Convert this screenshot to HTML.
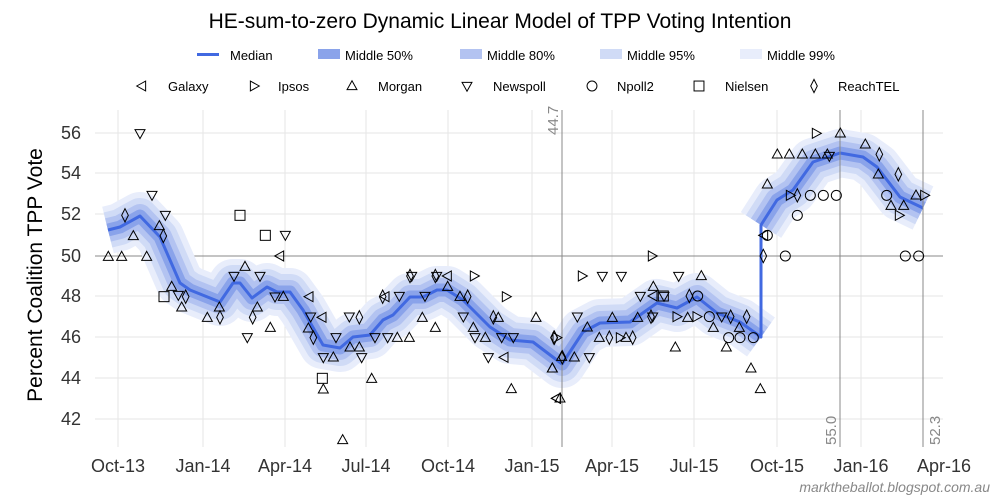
<!DOCTYPE html>
<html><head><meta charset="utf-8"><style>
html,body{margin:0;padding:0;background:#fff;}
svg{display:block;font-family:"Liberation Sans",sans-serif;}
</style></head><body>
<svg width="1000" height="500" viewBox="0 0 1000 500">
<defs>
<g id="tu"><polygon points="0,-16 15,11 -15,11" fill="none" stroke="#000" stroke-width="3"/></g>
<g id="td"><polygon points="0,16 15,-11 -15,-11" fill="none" stroke="#000" stroke-width="3"/></g>
<g id="tl"><polygon points="-16,0 11,-15 11,15" fill="none" stroke="#000" stroke-width="3"/></g>
<g id="tr"><polygon points="16,0 -11,-15 -11,15" fill="none" stroke="#000" stroke-width="3"/></g>
<g id="di"><polygon points="0,-20 10,0 0,20 -10,0" fill="none" stroke="#000" stroke-width="3"/></g>
<g id="ci"><circle r="15" fill="none" stroke="#000" stroke-width="3"/></g>
<g id="sq"><rect x="-15" y="-15" width="30" height="30" fill="none" stroke="#000" stroke-width="3"/></g>
<path id="p1" d="M108,230 L120,227 L140,216 L160,237 L180,283 L190,290 L220,302 L233,283 L240,283 L252,298 L267,287 L277,292 L290,292 L303,310 L323,345 L340,348 L353,337 L370,335 L383,320 L393,315 L410,297 L423,297 L437,290 L447,290 L463,300 L490,327 L510,340 L533,342 L562,364 L583,332 L600,323 L630,322 L657,303 L677,308 L697,297 L717,313 L740,322 L761,337"/>
<path id="p2" d="M761,225 L777,200 L793,190 L813,162 L840,153 L863,157 L877,167 L900,197 L923,208"/>
</defs>
<text x="500" y="28" font-size="21" text-anchor="middle" fill="#000">HE-sum-to-zero Dynamic Linear Model of TPP Voting Intention</text>
<g font-size="13" fill="#000">
<rect x="197" y="53" width="22" height="3" fill="#4169e1"/><text x="230" y="60">Median</text>
<rect x="318" y="49" width="22" height="10" fill="#8aa3ea"/><text x="345" y="60">Middle 50%</text>
<rect x="460" y="49" width="22" height="10" fill="#b3c3f1"/><text x="487" y="60">Middle 80%</text>
<rect x="600" y="49" width="22" height="10" fill="#d0dbf6"/><text x="627" y="60">Middle 95%</text>
<rect x="740" y="49" width="22" height="10" fill="#e8edfb"/><text x="767" y="60">Middle 99%</text>
</g>
<g font-size="13" fill="#000">
<use href="#tl" transform="translate(142,86) scale(0.33)"/><text x="168" y="91">Galaxy</text>
<use href="#tr" transform="translate(254,86) scale(0.33)"/><text x="278" y="91">Ipsos</text>
<use href="#tu" transform="translate(352,86) scale(0.33)"/><text x="378" y="91">Morgan</text>
<use href="#td" transform="translate(467,86) scale(0.33)"/><text x="493" y="91">Newspoll</text>
<use href="#ci" transform="translate(592,86) scale(0.33)"/><text x="617" y="91">Npoll2</text>
<use href="#sq" transform="translate(699,86) scale(0.33)"/><text x="725" y="91">Nielsen</text>
<use href="#di" transform="translate(814,86) scale(0.33)"/><text x="838" y="91">ReachTEL</text>
</g>
<g stroke="#e6e6e6" stroke-width="1">
<line x1="95" x2="943" y1="133" y2="133"/><line x1="95" x2="943" y1="173" y2="173"/>
<line x1="95" x2="943" y1="214" y2="214"/><line x1="95" x2="943" y1="296" y2="296"/>
<line x1="95" x2="943" y1="337" y2="337"/><line x1="95" x2="943" y1="378" y2="378"/>
<line x1="95" x2="943" y1="419" y2="419"/>
<line x1="118" x2="118" y1="110" y2="447"/><line x1="203" x2="203" y1="110" y2="447"/>
<line x1="285" x2="285" y1="110" y2="447"/><line x1="366" x2="366" y1="110" y2="447"/>
<line x1="448" x2="448" y1="110" y2="447"/><line x1="532" x2="532" y1="110" y2="447"/>
<line x1="612" x2="612" y1="110" y2="447"/><line x1="694" x2="694" y1="110" y2="447"/>
<line x1="777" x2="777" y1="110" y2="447"/><line x1="861" x2="861" y1="110" y2="447"/>
</g>
<line x1="95" x2="943" y1="256" y2="256" stroke="#888" stroke-width="1"/>
<g fill="none" stroke-linejoin="round" stroke-linecap="butt">
<use href="#p1" stroke="#e8edfb" stroke-width="48"/>
<use href="#p1" stroke="#d0dbf6" stroke-width="36"/>
<use href="#p1" stroke="#b3c3f1" stroke-width="24"/>
<use href="#p1" stroke="#8aa3ea" stroke-width="13"/>
<use href="#p2" stroke="#e8edfb" stroke-width="48"/>
<use href="#p2" stroke="#d0dbf6" stroke-width="36"/>
<use href="#p2" stroke="#b3c3f1" stroke-width="24"/>
<use href="#p2" stroke="#8aa3ea" stroke-width="13"/>
<path d="M108,230 L120,227 L140,216 L160,237 L180,283 L190,290 L220,302 L233,283 L240,283 L252,298 L267,287 L277,292 L290,292 L303,310 L323,345 L340,348 L353,337 L370,335 L383,320 L393,315 L410,297 L423,297 L437,290 L447,290 L463,300 L490,327 L510,340 L533,342 L562,364 L583,332 L600,323 L630,322 L657,303 L677,308 L697,297 L717,313 L740,322 L761,337 L761,225 L777,200 L793,190 L813,162 L840,153 L863,157 L877,167 L900,197 L923,208" stroke="#4169e1" stroke-width="3"/>
</g>
<g stroke="#888" stroke-width="1">
<line x1="562" x2="562" y1="110" y2="447"/>
<line x1="840" x2="840" y1="110" y2="447"/>
<line x1="923" x2="923" y1="110" y2="447"/>
</g>
<g font-size="15" fill="#888">
<text transform="translate(558,135) rotate(-90)">44.7</text>
<text transform="translate(836,445) rotate(-90)">55.0</text>
<text transform="translate(940,445) rotate(-90)">52.3</text>
</g>
<g transform="translate(90,110) scale(0.33333)">
<use href="#tu" x="55" y="440"/><use href="#tu" x="95" y="440"/><use href="#tu" x="170" y="440"/><use href="#tu" x="130" y="378"/><use href="#tu" x="208" y="348"/><use href="#tu" x="245" y="530"/><use href="#tu" x="275" y="592"/><use href="#tu" x="352" y="623"/><use href="#tu" x="388" y="592"/><use href="#tu" x="465" y="470"/><use href="#tu" x="502" y="592"/><use href="#tu" x="541" y="653"/><use href="#tu" x="580" y="560"/><use href="#tu" x="655" y="655"/><use href="#tu" x="700" y="838"/><use href="#tu" x="730" y="742"/><use href="#tu" x="758" y="990"/><use href="#tu" x="808" y="712"/><use href="#tu" x="780" y="712"/><use href="#tu" x="845" y="806"/><use href="#tu" x="922" y="683"/><use href="#tu" x="958" y="683"/><use href="#tu" x="997" y="623"/><use href="#tu" x="1036" y="653"/><use href="#tu" x="1073" y="530"/><use href="#tu" x="1110" y="560"/><use href="#tu" x="1150" y="653"/><use href="#tu" x="1186" y="683"/><use href="#tu" x="1225" y="623"/><use href="#tu" x="1264" y="837"/><use href="#tu" x="1338" y="623"/><use href="#tu" x="1387" y="775"/><use href="#tu" x="1415" y="740"/>
<use href="#td" x="150" y="70"/><use href="#td" x="186" y="255"/><use href="#td" x="226" y="315"/><use href="#td" x="265" y="555"/><use href="#td" x="586" y="375"/><use href="#td" x="472" y="682"/><use href="#td" x="510" y="498"/><use href="#td" x="555" y="560"/><use href="#td" x="662" y="620"/><use href="#td" x="700" y="742"/><use href="#td" x="738" y="682"/><use href="#td" x="778" y="620"/><use href="#td" x="815" y="742"/><use href="#td" x="855" y="682"/><use href="#td" x="893" y="682"/><use href="#td" x="928" y="558"/><use href="#td" x="965" y="498"/><use href="#td" x="1005" y="558"/><use href="#td" x="1040" y="498"/><use href="#td" x="1120" y="620"/><use href="#td" x="1155" y="682"/><use href="#td" x="1195" y="742"/><use href="#td" x="1235" y="682"/><use href="#td" x="1270" y="682"/><use href="#td" x="432" y="498"/>
<use href="#di" x="105" y="316"/><use href="#di" x="220" y="378"/><use href="#di" x="287" y="560"/><use href="#di" x="390" y="622"/><use href="#di" x="488" y="622"/><use href="#di" x="670" y="683"/><use href="#di" x="808" y="622"/><use href="#di" x="878" y="560"/><use href="#di" x="960" y="498"/><use href="#di" x="1036" y="498"/><use href="#di" x="1133" y="560"/><use href="#di" x="1210" y="622"/><use href="#di" x="1393" y="683"/>
<use href="#sq" x="222" y="560"/><use href="#sq" x="450" y="316"/><use href="#sq" x="526" y="376"/><use href="#sq" x="697" y="805"/>
<use href="#tl" x="570" y="438"/><use href="#tl" x="697" y="622"/><use href="#tl" x="886" y="560"/><use href="#tl" x="1073" y="498"/><use href="#tl" x="1243" y="742"/><use href="#tl" x="1400" y="865"/><use href="#tl" x="658" y="560"/>
<use href="#tr" x="1152" y="498"/><use href="#tr" x="1248" y="560"/><use href="#tr" x="1400" y="683"/>
</g>
<g transform="translate(540,110) scale(0.33333)">
<use href="#tu" x="37" y="775"/><use href="#tu" x="103" y="742"/><use href="#tu" x="142" y="652"/><use href="#tu" x="178" y="683"/><use href="#tu" x="217" y="623"/><use href="#tu" x="258" y="683"/><use href="#tu" x="293" y="623"/><use href="#tu" x="340" y="530"/><use href="#tu" x="406" y="712"/><use href="#tu" x="443" y="623"/><use href="#tu" x="484" y="498"/><use href="#tu" x="520" y="653"/><use href="#tu" x="559" y="712"/><use href="#tu" x="598" y="653"/><use href="#tu" x="633" y="775"/><use href="#tu" x="661" y="837"/><use href="#tu" x="682" y="223"/><use href="#tu" x="712" y="133"/><use href="#tu" x="748" y="133"/><use href="#tu" x="787" y="133"/><use href="#tu" x="826" y="133"/><use href="#tu" x="862" y="133"/><use href="#tu" x="901" y="70"/><use href="#tu" x="976" y="103"/><use href="#tu" x="1015" y="193"/><use href="#tu" x="1053" y="287"/><use href="#tu" x="1091" y="287"/><use href="#tu" x="1128" y="256"/><use href="#tu" x="60" y="865"/>
<use href="#td" x="112" y="620"/><use href="#td" x="148" y="742"/><use href="#td" x="187" y="498"/><use href="#td" x="244" y="498"/><use href="#td" x="301" y="558"/><use href="#td" x="338" y="620"/><use href="#td" x="372" y="558"/><use href="#td" x="416" y="498"/><use href="#td" x="545" y="620"/><use href="#td" x="868" y="138"/>
<use href="#di" x="67" y="742"/><use href="#di" x="42" y="683"/><use href="#di" x="208" y="683"/><use href="#di" x="278" y="683"/><use href="#di" x="333" y="620"/><use href="#di" x="448" y="558"/><use href="#di" x="572" y="620"/><use href="#di" x="620" y="620"/><use href="#di" x="670" y="438"/><use href="#di" x="772" y="256"/><use href="#di" x="1018" y="133"/><use href="#di" x="1075" y="193"/>
<use href="#ci" x="473" y="558"/><use href="#ci" x="508" y="620"/><use href="#ci" x="566" y="683"/><use href="#ci" x="600" y="683"/><use href="#ci" x="640" y="683"/><use href="#ci" x="682" y="376"/><use href="#ci" x="736" y="438"/><use href="#ci" x="772" y="316"/><use href="#ci" x="811" y="256"/><use href="#ci" x="850" y="256"/><use href="#ci" x="889" y="256"/><use href="#ci" x="1040" y="256"/><use href="#ci" x="1096" y="438"/><use href="#ci" x="1136" y="438"/>
<use href="#tl" x="340" y="558"/><use href="#tl" x="50" y="865"/><use href="#tl" x="672" y="376"/>
<use href="#tr" x="126" y="498"/><use href="#tr" x="336" y="438"/><use href="#tr" x="410" y="620"/><use href="#tr" x="470" y="620"/><use href="#tr" x="240" y="683"/><use href="#tr" x="750" y="256"/><use href="#tr" x="828" y="70"/><use href="#tr" x="1077" y="316"/><use href="#tr" x="1153" y="256"/>
<use href="#sq" x="370" y="558"/>
</g>
<g font-size="18" fill="#333" text-anchor="end">
<text x="81" y="139">56</text><text x="81" y="179">54</text><text x="81" y="220">52</text>
<text x="81" y="262">50</text><text x="81" y="302">48</text><text x="81" y="343">46</text>
<text x="81" y="384">44</text><text x="81" y="425">42</text>
</g>
<text transform="translate(42,275) rotate(-90)" font-size="21" text-anchor="middle" fill="#000">Percent Coalition TPP Vote</text>
<g font-size="18" fill="#333" text-anchor="middle">
<text x="118" y="472">Oct-13</text><text x="203" y="472">Jan-14</text><text x="285" y="472">Apr-14</text>
<text x="366" y="472">Jul-14</text><text x="448" y="472">Oct-14</text><text x="532" y="472">Jan-15</text>
<text x="612" y="472">Apr-15</text><text x="694" y="472">Jul-15</text><text x="777" y="472">Oct-15</text>
<text x="861" y="472">Jan-16</text><text x="944" y="472">Apr-16</text>
</g>
<text x="990" y="492" font-size="14" font-style="italic" fill="#888" text-anchor="end">marktheballot.blogspot.com.au</text>
</svg>
</body></html>
